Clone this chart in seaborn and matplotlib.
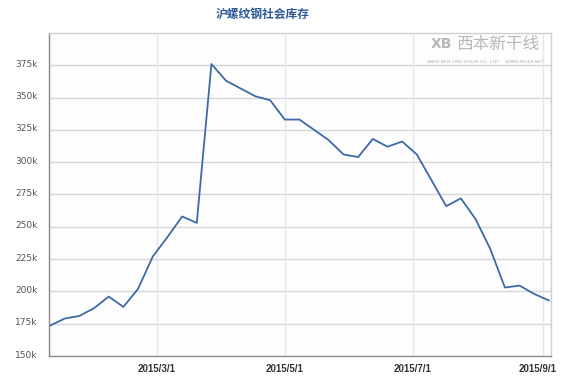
import matplotlib
matplotlib.use("Agg")
import matplotlib.pyplot as plt
import matplotlib.ticker as mticker
import matplotlib.transforms as mtransforms
import seaborn as sns
import pandas as pd

# ---- data ----
start_date = "2015-01-09"
n_weeks = 35
inventory = [173.5, 179, 181, 187, 196, 188, 202, 227, 242, 258, 253,
             376, 363, 357, 351, 348, 333, 333, 325, 317, 306, 304,
             318, 312, 316, 306, 286, 266, 272, 256, 233, 203, 204.5,
             198, 193]
inventory = [v * 1000 for v in inventory]
dates = pd.date_range(start_date, periods=n_weeks, freq="7D")
y_ticks = [150000, 175000, 200000, 225000, 250000, 275000, 300000, 325000, 350000, 375000]
x_ticks = ["2015-03-01", "2015-05-01", "2015-07-01", "2015-09-01"]
x_tick_labels = ["2015/3/1", "2015/5/1", "2015/7/1", "2015/9/1"]
title = "沪螺纹钢社会库存"

df = pd.DataFrame({"date": dates, "inventory": inventory})

sns.set_theme(style="white")
plt.rcParams["font.family"] = ["DejaVu Sans", "Noto Sans CJK SC"]

fig = plt.figure(figsize=(5.63, 3.80), dpi=100)
ax = fig.add_axes([49 / 563, 1 - 356 / 380, (551 - 49) / 563, (356 - 33) / 380])
ax.set_facecolor("#fdfdfd")

sns.lineplot(data=df, x="date", y="inventory", ax=ax, color="#3d6aa5", linewidth=1.3)

ax.set_ylim(150000, 400000)
ax.set_xlim(pd.Timestamp("2015-01-09") - pd.Timedelta(days=0.5), pd.Timestamp("2015-09-05"))
ax.set_yticks(y_ticks)
ax.yaxis.set_major_formatter(mticker.FuncFormatter(lambda v, p: f"{int(v/1000)}k"))
ax.set_xticks([pd.Timestamp(d) for d in x_ticks])
ax.set_xticklabels(x_tick_labels)

ax.set_xlabel("")
ax.set_ylabel("")

# grid
for yt in y_ticks[1:]:
    ax.axhline(yt, color="#d6d6d6", linewidth=1.0, zorder=0)
for xt in x_ticks:
    ax.axvline(pd.Timestamp(xt), color="#e2e6ee", linewidth=1.0, zorder=0)

ax.tick_params(axis="y", length=0, pad=8, labelsize=6.5, labelcolor="#555555")
ax.tick_params(axis="x", length=3, color="#dde2ea", pad=3, labelsize=6.5, labelcolor="#333333")
for lbl in ax.get_yticklabels():
    lbl.set_transform(lbl.get_transform() + mtransforms.ScaledTranslation(0, 2 / 100, fig.dpi_scale_trans))
xlbls = ax.get_xticklabels()
for lbl in xlbls:
    lbl.set_fontweight("bold")
    lbl.set_family(["Liberation Sans", "DejaVu Sans"])
    lbl.set_fontsize(7)
xlbls[-1].set_transform(xlbls[-1].get_transform() + mtransforms.ScaledTranslation(-5 / 100, 0, fig.dpi_scale_trans))

for side in ["left", "bottom"]:
    ax.spines[side].set_color("#8a8a8a")
    ax.spines[side].set_linewidth(1.0)
for side in ["top", "right"]:
    ax.spines[side].set_color("#cfcfcf")
    ax.spines[side].set_linewidth(1.0)

fig.text(263 / 563, 1 - 14 / 380, title, ha="center", va="center",
         fontsize=8.5, color="#2c5a96", fontweight="bold",
         family=["Noto Sans CJK SC", "DejaVu Sans"])

# watermark logo text
fig.text(498 / 563, 1 - 44 / 380, "西本新干线", ha="center", va="center",
         fontsize=12, color="#b8b8b8", style="italic",
         family=["Noto Sans CJK SC", "DejaVu Sans"])
fig.text(441 / 563, 1 - 44 / 380, "XB", ha="center", va="center",
         fontsize=10, color="#b8b8b8", fontweight="bold")
fig.text(485 / 563, 1 - 62 / 380, "XIBEN NEW LINE STOCK CO., LTD.    WWW.96369.NET",
         ha="center", va="center", fontsize=3.2, color="#b0b0b0", style="italic")

fig.savefig("out.png", dpi=100)
